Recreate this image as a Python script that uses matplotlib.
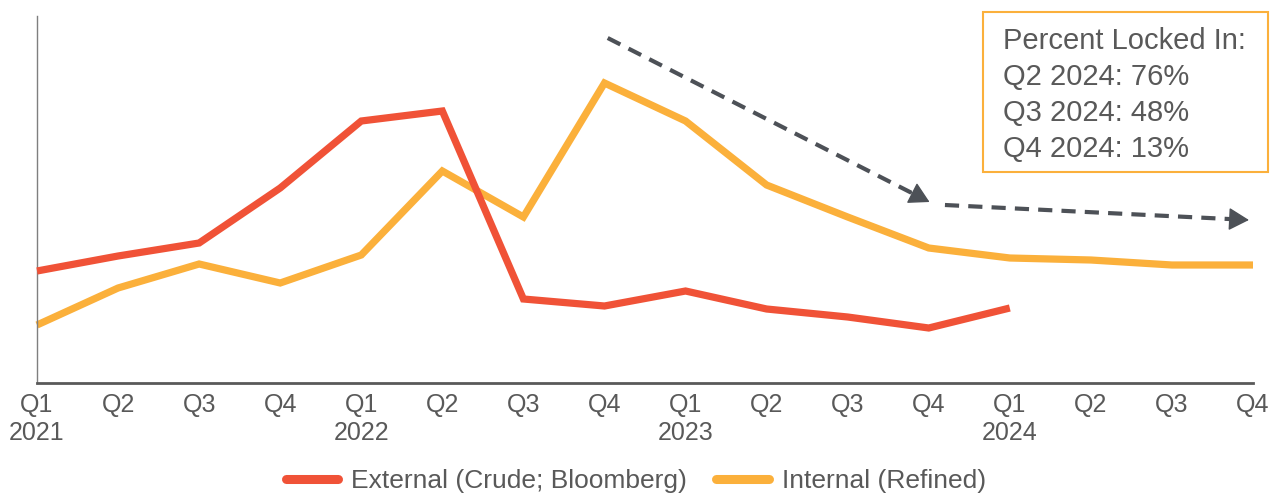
import matplotlib
matplotlib.use("Agg")
import matplotlib.pyplot as plt
from matplotlib.lines import Line2D
from matplotlib.patches import Rectangle

plt.rcParams['font.family'] = ['Liberation Sans', 'DejaVu Sans']

quarters = ["Q1\n2021", "Q2", "Q3", "Q4", "Q1\n2022", "Q2", "Q3", "Q4",
            "Q1\n2023", "Q2", "Q3", "Q4", "Q1\n2024", "Q2", "Q3", "Q4"]
external = [112, 127, 140, 195, 262, 272, 84, 77, 92, 74, 66, 55, 75]
internal = [58, 95, 119, 100, 128, 212, 166, 300, 262, 198, 166, 135, 125, 123, 118, 118]
arrow1_x = [7.04, 11.01]
arrow1_y = [345, 181]
arrow2_x = [11.2, 14.95]
arrow2_y = [178, 163]
box_lines = ["Percent Locked In:", "Q2 2024: 76%", "Q3 2024: 48%", "Q4 2024: 13%"]
legend_labels = ["External (Crude; Bloomberg)", "Internal (Refined)"]

RED = "#F05237"
ORANGE = "#FBB03B"
GREY = "#595959"
DARK = "#4D5157"

W, H = 1272, 495
fig = plt.figure(figsize=(W / 100, H / 100), dpi=100)
ax = fig.add_axes([37 / W, (H - 383) / H, (1253 - 37) / W, (383 - 16) / H])

xi = list(range(len(quarters)))
ax.plot(xi[:len(external)], external, color=RED, lw=5.2, solid_joinstyle='miter',
        solid_capstyle='butt', zorder=3, clip_on=False)
ax.plot(xi, internal, color=ORANGE, lw=5.2, solid_joinstyle='miter',
        solid_capstyle='butt', zorder=2, clip_on=False)

# dashed trend arrows
for xs, ys in [(arrow1_x, arrow1_y), (arrow2_x, arrow2_y)]:
    frac = 0.95
    xe = xs[0] + (xs[1] - xs[0]) * frac
    ye = ys[0] + (ys[1] - ys[0]) * frac
    ax.plot([xs[0], xe], [ys[0], ye], color=DARK, lw=3, dashes=(3.4, 2.2),
            solid_capstyle='butt', dash_capstyle='butt', zorder=4, clip_on=False)
    ax.annotate("", xy=(xs[1], ys[1]), xytext=(xe - (xs[1] - xs[0]) * 0.02, ye - (ys[1] - ys[0]) * 0.02),
                arrowprops=dict(arrowstyle='-|>,head_length=0.8,head_width=0.45',
                                color=DARK, lw=1, shrinkA=0, shrinkB=0,
                                mutation_scale=16),
                zorder=4, annotation_clip=False)

ax.set_xlim(0, 15)
ax.set_ylim(0, 367)
ax.set_xticks(xi)
ax.set_xticklabels(quarters, fontsize=18, color=GREY, linespacing=1.25)
ax.tick_params(axis='x', length=0, pad=7)
ax.set_yticks([])
for s in ['top', 'right']:
    ax.spines[s].set_visible(False)
ax.spines['left'].set_color("#7f7f7f")
ax.spines['left'].set_linewidth(1.0)
ax.spines['bottom'].set_color("#595959")
ax.spines['bottom'].set_linewidth(2.0)

# locked-in box
rect = Rectangle((983 / W, (H - 172) / H), (1268 - 983) / W, (172 - 12) / H,
                 transform=fig.transFigure, fill=False, edgecolor=ORANGE, lw=1.5)
fig.patches.append(rect)
fig.text(1003 / W, (H - 27) / H, "\n".join(box_lines), fontsize=21, color=GREY,
         va='top', ha='left', linespacing=1.36)

handles = [Line2D([], [], color=RED, lw=6.5, solid_capstyle='round'),
           Line2D([], [], color=ORANGE, lw=6.5, solid_capstyle='round')]
fig.legend(handles, legend_labels, loc='center', bbox_to_anchor=(0.5, (H - 481) / H),
           ncol=2, frameon=False, fontsize=19, handlelength=2.0, handletextpad=0.5,
           columnspacing=1.1, labelcolor=GREY)

fig.savefig("out.png", dpi=100)
